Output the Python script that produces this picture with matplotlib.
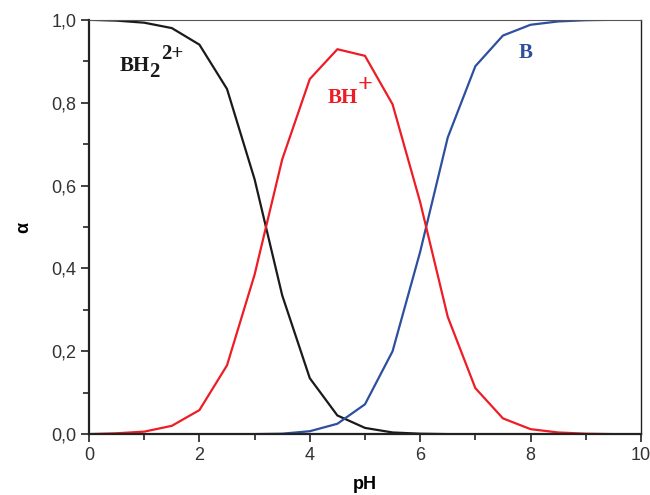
import matplotlib
matplotlib.use("Agg")
import matplotlib.pyplot as plt
from matplotlib.ticker import MultipleLocator, FuncFormatter

# Species fractions of a diprotic base vs pH
ph = [0, 0.5, 1, 1.5, 2, 2.5, 3, 3.5, 4, 4.5, 5, 5.5, 6, 6.5, 7, 7.5, 8, 8.5, 9, 9.5, 10]
alpha_bh2 = [1.0, 0.998, 0.993, 0.980, 0.940, 0.833, 0.615, 0.335, 0.135, 0.045, 0.015,
             0.004, 0.001, 0.0, 0.0, 0.0, 0.0, 0.0, 0.0, 0.0, 0.0]
alpha_bh = [0.0, 0.002, 0.006, 0.020, 0.058, 0.166, 0.385, 0.663, 0.857, 0.929, 0.913,
            0.796, 0.560, 0.283, 0.111, 0.038, 0.012, 0.004, 0.001, 0.0, 0.0]
alpha_b = [0.0, 0.0, 0.0, 0.0, 0.0, 0.0, 0.0, 0.001, 0.007, 0.025, 0.072,
           0.200, 0.440, 0.716, 0.888, 0.962, 0.988, 0.996, 0.999, 1.0, 1.0]

c_black = "#1a1a1a"
c_red = "#ee1c25"
c_blue = "#2d4f9e"
sans = ["Liberation Sans", "DejaVu Sans"]

fig = plt.figure(figsize=(6.5, 4.95), dpi=100)
ax = fig.add_axes([0.137, 0.123, 0.849, 0.837])

ax.plot(ph, alpha_bh2, color=c_black, lw=1.6)
ax.plot(ph, alpha_b, color=c_blue, lw=1.6)
ax.plot(ph, alpha_bh, color=c_red, lw=1.6)

ax.set_xlim(0, 10)
ax.set_ylim(0, 1.0)
ax.xaxis.set_major_locator(MultipleLocator(2))
ax.xaxis.set_minor_locator(MultipleLocator(1))
ax.yaxis.set_major_locator(MultipleLocator(0.2))
ax.yaxis.set_minor_locator(MultipleLocator(0.1))
ax.yaxis.set_major_formatter(FuncFormatter(lambda v, p: f"{v:.1f}".replace(".", ",")))

ax.tick_params(which="both", direction="out", top=False, right=False,
               color="#222222", labelcolor="#333333", width=1.2)
ax.tick_params(which="major", length=6, pad=3)
ax.tick_params(which="minor", length=4)
for lab in ax.get_xticklabels() + ax.get_yticklabels():
    lab.set_fontfamily(sans)
    lab.set_fontsize(13)

ax.spines["left"].set_linewidth(1.6)
ax.spines["bottom"].set_linewidth(1.6)
ax.spines["right"].set_linewidth(1.0)
ax.spines["top"].set_linewidth(0.8)
ax.spines["top"].set_color("#555555")
for s in ("left", "bottom", "right"):
    ax.spines[s].set_color("#222222")

ax.set_xlabel("pH", fontsize=13, fontweight="bold", family=sans, labelpad=9)
ax.set_ylabel("α", fontsize=13, fontweight="bold", family=sans, labelpad=14)

# species labels: main text plus sub/superscripts at full size
lab_font = dict(family=["Liberation Serif", "DejaVu Serif"], fontweight="bold", fontsize=15)

ax.annotate("BH", xy=(0.55, 0.877), color=c_black, ha="left", va="baseline", **lab_font)
ax.annotate("2", xy=(0.55, 0.877), xytext=(21.6, -4.3), textcoords="offset points",
            color=c_black, ha="left", va="baseline", **lab_font)
ax.annotate("2+", xy=(0.55, 0.877), xytext=(30.0, 8.6), textcoords="offset points",
            color=c_black, ha="left", va="baseline", **lab_font)

ax.annotate("BH", xy=(4.33, 0.799), color=c_red, ha="left", va="baseline", **lab_font)
ax.annotate("+", xy=(4.33, 0.799), xytext=(21.4, 8), textcoords="offset points",
            color=c_red, ha="left", va="baseline",
            family=["Liberation Serif", "DejaVu Serif"], fontweight="bold", fontsize=19)

ax.annotate("B", xy=(7.79, 0.908), color=c_blue, ha="left", va="baseline", **lab_font)

fig.savefig("out.png", dpi=100)
